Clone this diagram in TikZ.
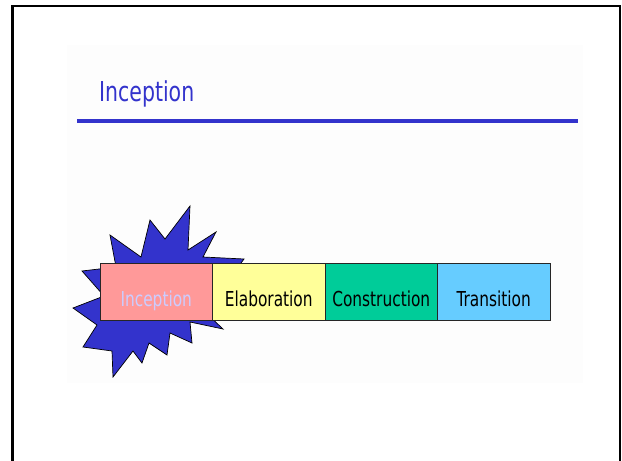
\documentclass[tikz,border=0pt]{standalone}
\usepackage{fontspec}
\newfontfamily\slidefont[FakeStretch=0.83]{DejaVu Sans Condensed}
\definecolor{titleblue}{HTML}{3333CC}
\definecolor{starblue}{HTML}{3333CC}
\definecolor{incfill}{HTML}{FF9999}
\definecolor{inctext}{HTML}{CCCCFF}
\definecolor{elabfill}{HTML}{FFFF99}
\definecolor{consfill}{HTML}{00CC99}
\definecolor{transfill}{HTML}{66CCFF}
\definecolor{slidebg}{HTML}{FDFDFD}
\begin{document}
\begin{tikzpicture}[x=1pt,y=-1pt,
  phase/.style={draw=black!85, line width=0.9pt, minimum width=112.5pt,
    inner sep=0pt, outer sep=0pt, text height=43pt, text depth=14pt, anchor=north west,
    font=\slidefont\fontsize{20.6}{24}\selectfont},
  titletext/.style={anchor=base west, inner sep=0pt, text=titleblue,
    font=\slidefont\fontsize{27.4}{32}\selectfont},
  burst/.style={fill=starblue, draw=black, line width=0.7pt, line join=miter}]
\useasboundingbox (0,0) rectangle (622,461);
\fill[white] (0,0) rectangle (622,461);
\fill[slidebg] (67,45) rectangle (583,383);
\draw[line width=2.3pt] (12.5,470) -- (12.5,5.8) -- (620,5.8) -- (620,470);
\node[titletext] (title) at (99,101.7) {Inception};
\coordinate (ruleL) at (77,121);
\coordinate (ruleR) at (578,121);
\draw[titleblue, line width=3.5pt] (ruleL) -- (ruleR);
% starburst
\draw[burst] (110,235) -- (141,257) -- (150,220) -- (165,239) -- (190,206)
  -- (188,250) -- (216,232) -- (203,257) -- (244,259) -- (205,312)
  -- (223,329) -- (190,322) -- (192,343) -- (170,333) -- (167,355)
  -- (149,343) -- (142,363) -- (133,351) -- (113,377) -- (112,351)
  -- (83,347) -- (97,325) -- (73,308) -- (104,296) -- (82,271)
  -- (116,267) -- cycle;
% phases
\node[phase, fill=incfill, text=inctext] (inc) at (100,263) {Inception};
\node[phase, fill=elabfill] (elab) at (inc.north east) {Elaboration};
\node[phase, fill=consfill] (cons) at (elab.north east) {Construction};
\node[phase, fill=transfill] (trans) at (cons.north east) {Transition};
\end{tikzpicture}
\end{document}
